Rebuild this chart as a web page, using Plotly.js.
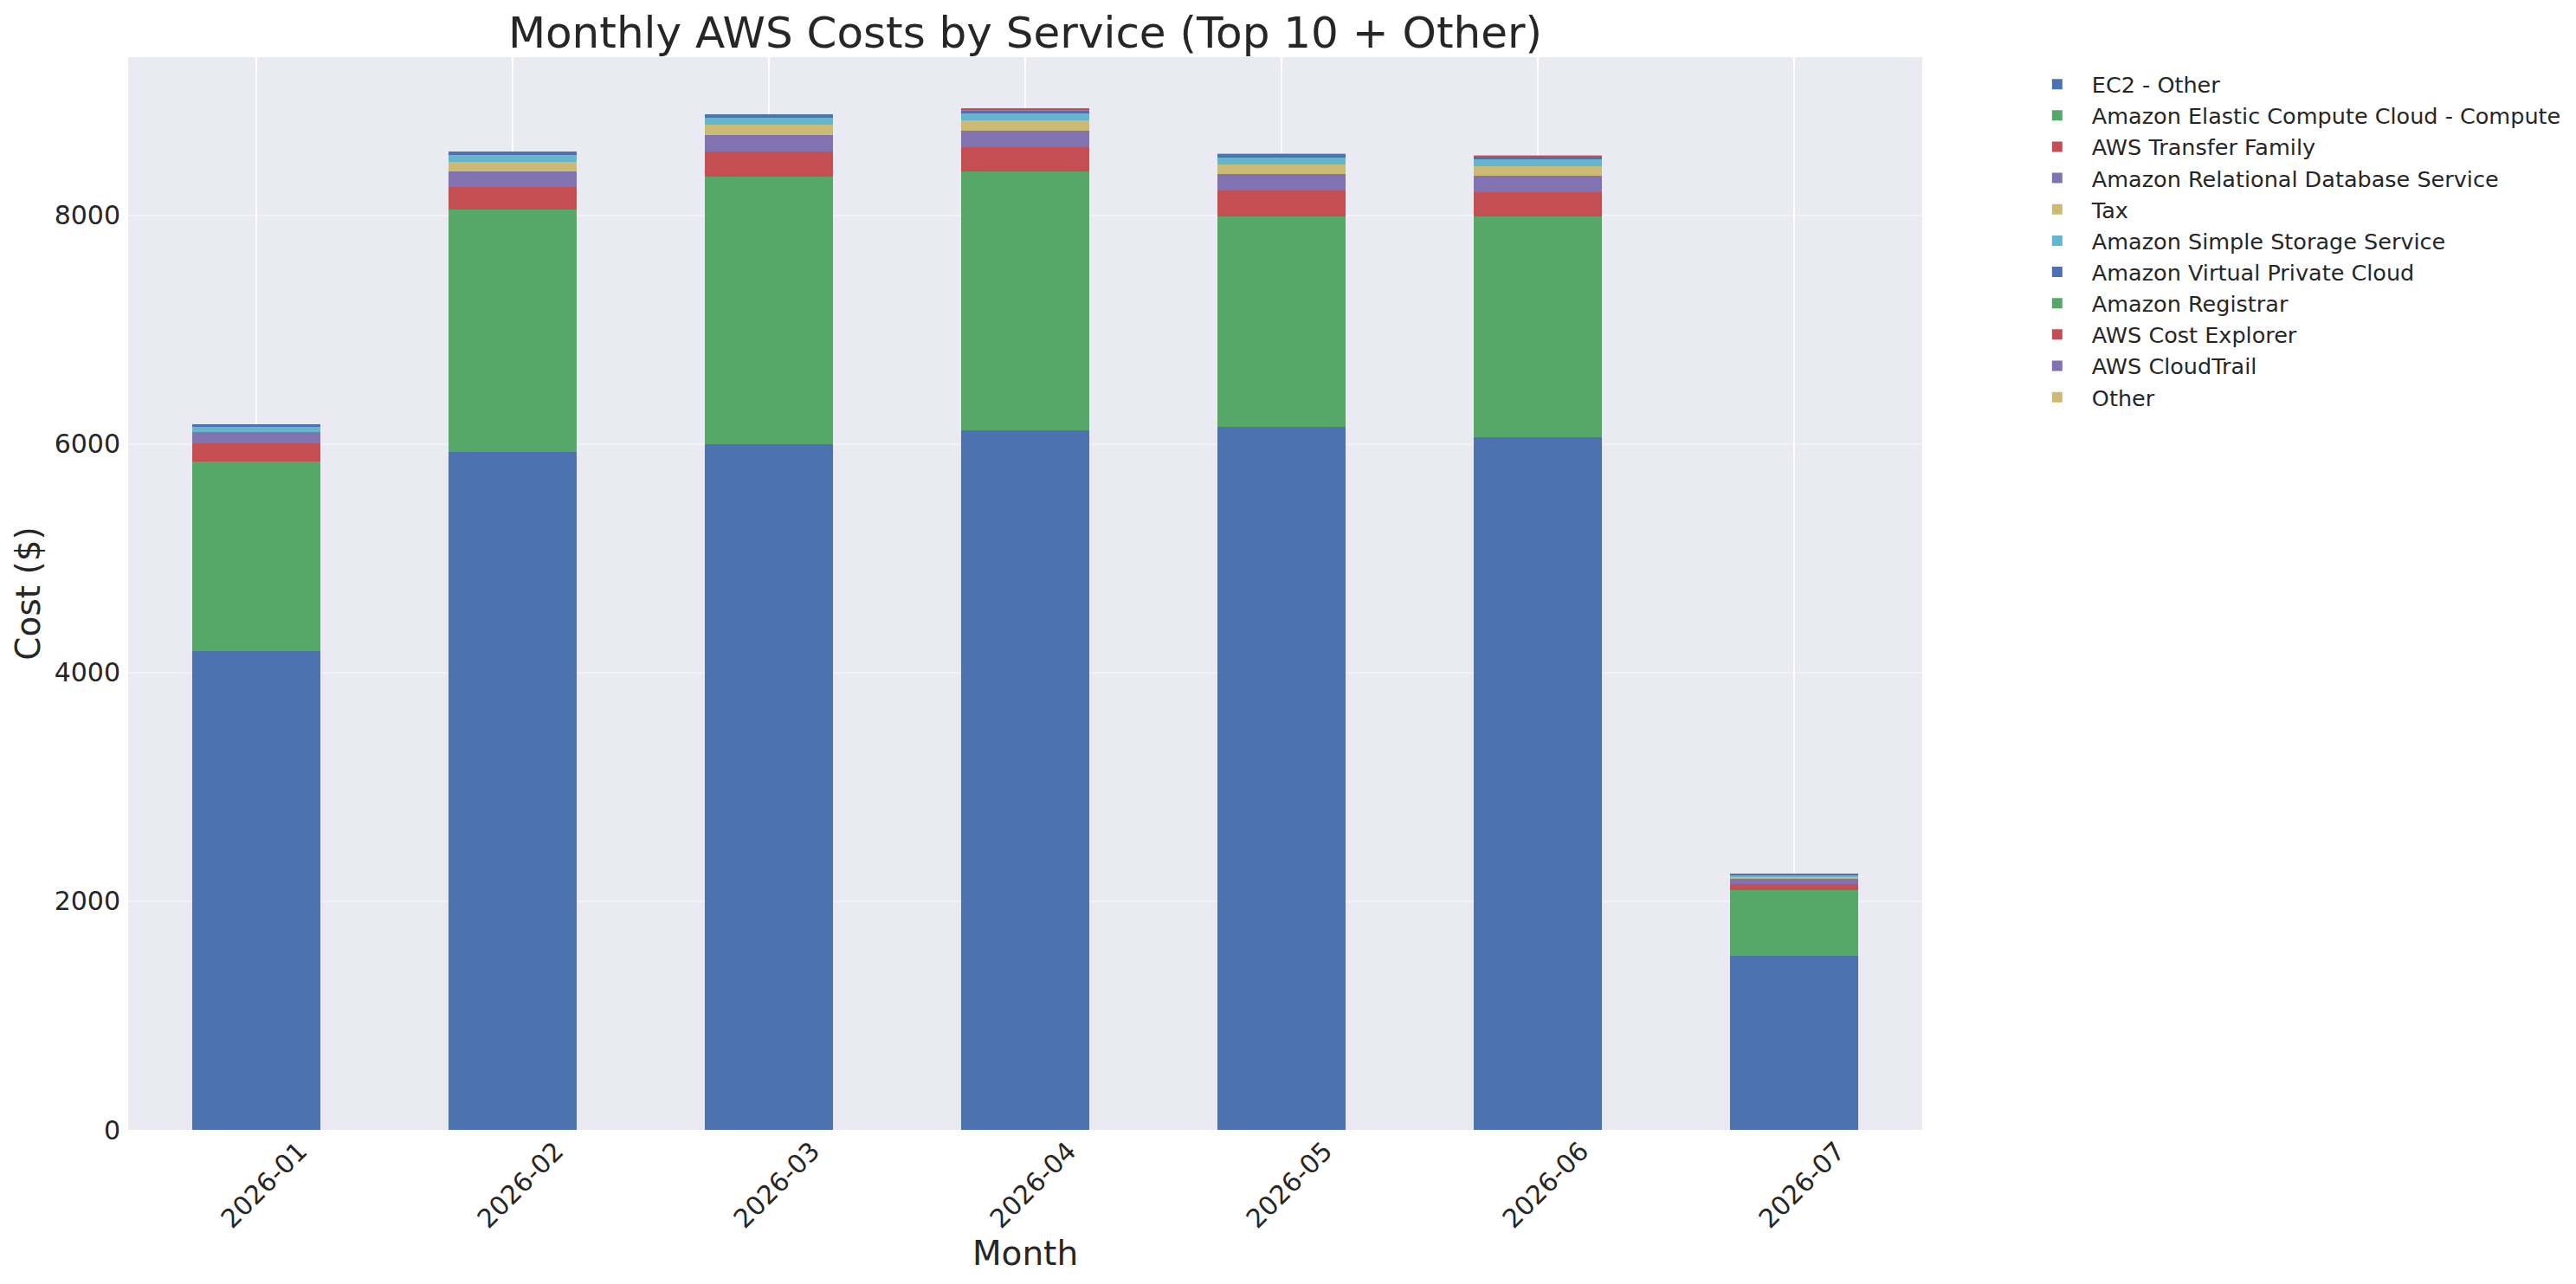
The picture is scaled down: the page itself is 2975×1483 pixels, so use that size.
<!DOCTYPE html>
<html>
<head>
<meta charset="utf-8">
<script src="https://cdn.plot.ly/plotly-3.0.1.min.js"></script>
<style>
  body { margin: 0; background: #ffffff; }
  #chart { width: 2975px; height: 1483px; }
</style>
</head>
<body>
<div id="chart"></div>
<script>
// months on the x axis
const months = ['2026-01', '2026-02', '2026-03', '2026-04', '2026-05', '2026-06', '2026-07'];

// cost per service per month, in dollars
const ec2Other       = [4190, 5928, 6000, 6119, 6147, 6061, 1520];
const ec2Compute     = [1660, 2122, 2335, 2262, 1843, 1929, 576];
const transferFamily = [156, 195, 222, 212, 228, 213, 58];
const rdsCost        = [101, 138, 142, 143, 144, 144, 41];
const taxCost        = [0, 82, 90, 91, 84, 83, 20];
const s3Cost         = [43, 59, 61, 61, 60, 61, 15];
const vpcCost        = [22, 32, 30, 22, 31, 23, 10];
const registrarCost  = [0, 0, 0, 13, 0, 0, 0];
const costExplorer   = [0, 0, 0, 10, 0, 8, 0];
const cloudTrailCost = [1, 1, 1, 1, 1, 1, 0];
const otherCost      = [2, 2, 2, 2, 2, 2, 1];

const serviceNames = [
    'EC2 - Other',
    'Amazon Elastic Compute Cloud - Compute',
    'AWS Transfer Family',
    'Amazon Relational Database Service',
    'Tax',
    'Amazon Simple Storage Service',
    'Amazon Virtual Private Cloud',
    'Amazon Registrar',
    'AWS Cost Explorer',
    'AWS CloudTrail',
    'Other'
];
const serviceValues = [ec2Other, ec2Compute, transferFamily, rdsCost, taxCost, s3Cost,
                       vpcCost, registrarCost, costExplorer, cloudTrailCost, otherCost];

// seaborn "deep" 6 colour cycle, repeats after six
const palette = ['#4C72B0', '#55A868', '#C44E52', '#8172B2', '#CCB974', '#64B5CD'];

const textColor = '#262626';
const font = 'DejaVu Sans, Liberation Sans, sans-serif';

const traces = serviceNames.map(function(name, i) {
    return {
        type: 'bar',
        name: name,
        x: months,
        y: serviceValues[i],
        marker: { color: palette[i % palette.length], line: { width: 0 } },
        hoverinfo: 'skip'
    };
});

const layout = {
    width: 2975,
    height: 1483,
    barmode: 'stack',
    bargap: 0.5,
    paper_bgcolor: '#ffffff',
    plot_bgcolor: '#EAEAF2',
    margin: { l: 148, r: 751, t: 66, b: 178 },
    font: { family: font, color: textColor },
    title: {
        text: 'Monthly AWS Costs by Service (Top 10 + Other)',
        font: { family: font, size: 50, color: textColor },
        x: 0.5, xref: 'paper', xanchor: 'center',
        y: 0.975, yref: 'container', yanchor: 'middle'
    },
    xaxis: {
        type: 'category',
        range: [-0.5, 6.5],
        showgrid: true,
        gridcolor: '#ffffff',
        gridwidth: 2.2,
        zeroline: false,
        showline: false,
        ticks: '',
        tickangle: -45,
        ticklabelshift: 50,
        tickfont: { family: font, size: 30, color: textColor },
        title: { text: 'Month', font: { family: font, size: 39, color: textColor }, standoff: 8 }
    },
    yaxis: {
        range: [0, 9383],
        dtick: 2000,
        tickformat: 'd',
        showgrid: true,
        gridcolor: 'rgba(255,255,255,0.4)',
        gridwidth: 2,
        zeroline: false,
        showline: false,
        ticks: '',
        ticklabelstandoff: 8,
        tickfont: { family: font, size: 30, color: textColor },
        title: { text: 'Cost ($)', font: { family: font, size: 39, color: textColor }, standoff: 3 }
    },
    legend: {
        x: 1.0559, xanchor: 'left',
        y: 0.9935, yanchor: 'top',
        traceorder: 'normal',
        itemwidth: 70,
        bgcolor: 'rgba(0,0,0,0)',
        font: { family: font, size: 25.5, color: textColor }
    },
    showlegend: true
};

Plotly.newPlot('chart', traces, layout, { displayModeBar: false, staticPlot: true });
</script>
</body>
</html>
